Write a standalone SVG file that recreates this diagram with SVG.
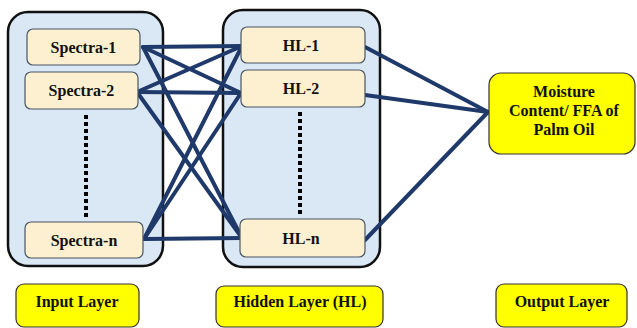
<svg xmlns="http://www.w3.org/2000/svg" width="637" height="328" viewBox="0 0 637 328">
<style>
.cont{fill:#dae7f4;stroke:#111;stroke-width:2.5}
.node{fill:#fdf0d0;stroke:#4a5564;stroke-width:1.2}
.yel{fill:#ffff00;stroke:#333;stroke-width:1.2}
text{font-family:'Liberation Serif','Times New Roman',Tinos,'DejaVu Serif',serif;font-weight:bold;font-size:16px;fill:#111;text-anchor:middle}
.dots{stroke:#000;stroke-width:4;stroke-dasharray:4 3;fill:none}
.con{stroke:#1f3a6a;stroke-width:4;fill:none;stroke-linecap:round}
</style>
<rect width="637" height="328" fill="#fff"/>
<g id="input-container"><rect class="cont" x="8" y="12" width="155" height="254" rx="20"/></g>
<g id="hidden-container"><rect class="cont" x="223" y="10" width="157" height="257" rx="20"/></g>
<g id="dots-input"><line class="dots" x1="86" y1="115" x2="86" y2="218"/></g>
<g id="dots-hidden"><line class="dots" x1="300" y1="112" x2="300" y2="216"/></g>
<g id="connectors">
<line class="con" x1="143" y1="47" x2="242" y2="46"/>
<line class="con" x1="143" y1="47" x2="241" y2="93"/>
<line class="con" x1="143" y1="47" x2="242" y2="238"/>
<line class="con" x1="137" y1="92" x2="242" y2="46"/>
<line class="con" x1="137" y1="92" x2="241" y2="93"/>
<line class="con" x1="137" y1="92" x2="242" y2="238"/>
<line class="con" x1="144" y1="239" x2="242" y2="46"/>
<line class="con" x1="144" y1="239" x2="241" y2="93"/>
<line class="con" x1="144" y1="239" x2="242" y2="238"/>
<line class="con" x1="365" y1="47" x2="488" y2="112"/>
<line class="con" x1="365" y1="95" x2="488" y2="112"/>
<line class="con" x1="365" y1="240" x2="488" y2="112"/>
</g>
<g font-family="'Liberation Serif', 'Times New Roman', serif">
<g id="spectra-1"><rect class="node" x="27" y="29" width="113" height="36" rx="6"/><text x="83.5" y="52.5">Spectra-1</text></g>
<g id="spectra-2"><rect class="node" x="25" y="72" width="113" height="37" rx="6"/><text x="81.5" y="96">Spectra-2</text></g>
<g id="spectra-n"><rect class="node" x="25" y="222" width="118" height="36" rx="6"/><text x="84" y="245.5">Spectra-n</text></g>
<g id="hl-1"><rect class="node" x="241" y="27" width="124" height="36" rx="6"/><text x="301" y="50.5">HL-1</text></g>
<g id="hl-2"><rect class="node" x="241" y="70" width="124" height="37" rx="6"/><text x="301" y="94">HL-2</text></g>
<g id="hl-n"><rect class="node" x="240" y="219" width="125" height="38" rx="6"/><text x="301" y="243.5">HL-n</text></g>
<g id="output"><rect class="yel" x="489" y="73" width="146" height="81" rx="12"/>
<text x="564" y="97">Moisture</text>
<text x="564" y="116">Content/ FFA of</text>
<text x="564" y="135">Palm Oil</text></g>
<g id="label-input"><rect class="yel" x="16" y="284" width="123" height="43" rx="8"/><text x="77" y="307">Input Layer</text></g>
<g id="label-hidden"><rect class="yel" x="216" y="286" width="167" height="41" rx="8"/><text x="300" y="307">Hidden Layer (HL)</text></g>
<g id="label-output"><rect class="yel" x="496" y="284" width="131" height="43" rx="8"/><text x="562" y="307">Output Layer</text></g>
</g>
</svg>
